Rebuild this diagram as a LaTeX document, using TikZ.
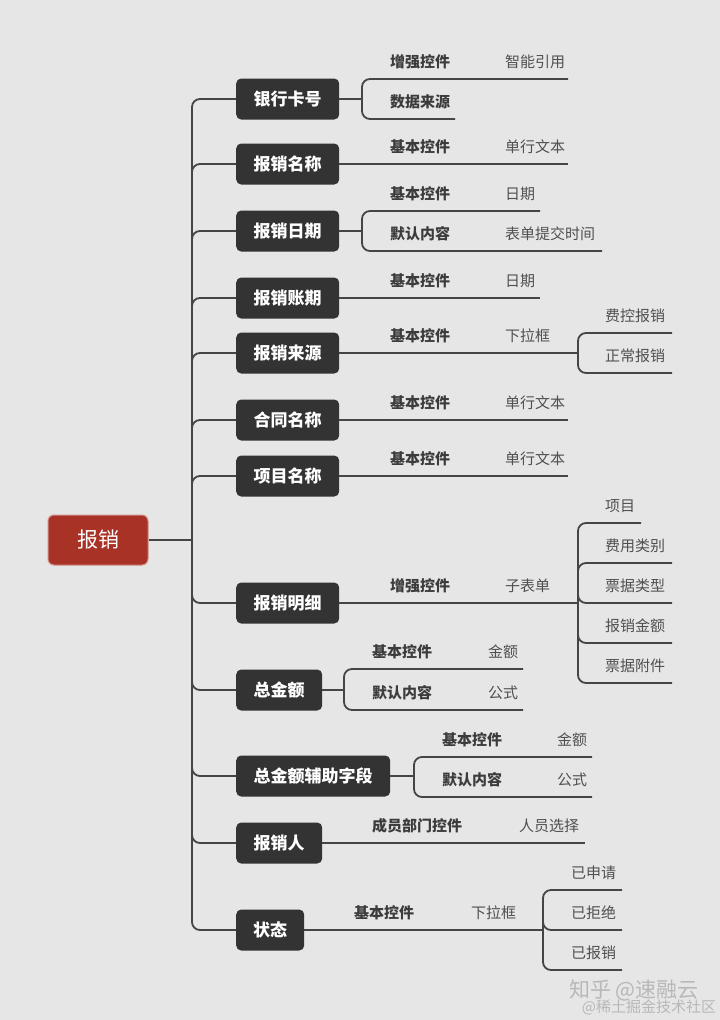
\documentclass[tikz,border=0pt]{standalone}
\usepackage{fontspec}
\setmainfont{Noto Sans CJK SC}
\definecolor{bg}{HTML}{E6E6E6}
\definecolor{ln}{HTML}{454545}
\definecolor{boxc}{HTML}{333333}
\definecolor{rootc}{HTML}{A93226}
\definecolor{ttwo}{HTML}{3C3C3C}
\definecolor{tthree}{HTML}{505050}
\definecolor{wm}{HTML}{B8B8B8}
\tikzset{
 conn/.style={draw=ln, line width=1.8pt, rounded corners=8pt},
 lone/.style={fill=boxc, rounded corners=5pt, text=white, font=\fontsize{17}{17}\selectfont\bfseries, minimum height=41pt, anchor=west, inner sep=0pt},
 rootbox/.style={fill=rootc, draw=rootc!55!white, line width=1pt, rounded corners=6pt, text=white, font=\fontsize{21}{21}\selectfont, minimum width=100pt, minimum height=50pt},
 ltwo/.style={text=ttwo, font=\fontsize{15}{15}\selectfont\bfseries, anchor=west, inner sep=0pt},
 lthree/.style={text=tthree, font=\fontsize{15}{15}\selectfont, anchor=west, inner sep=0pt},
 wmark/.style={text=wm, inner sep=0pt},
}
\begin{document}
\begin{tikzpicture}[x=1pt,y=-1pt]
\fill[bg] (0,0) rectangle (720,1020);
\useasboundingbox (0,0) rectangle (720,1020);

% root
\node[rootbox] (root) at (98,540) {报销};
\coordinate (sj) at (192,540);
\draw[conn] (root.east) -- (sj);

% level-1 boxes
\node[lone, minimum width=103pt] (b1) at (236,99) {银行卡号};
\node[lone, minimum width=103pt] (b2) at (236,164) {报销名称};
\node[lone, minimum width=103pt] (b3) at (236,231) {报销日期};
\node[lone, minimum width=103pt] (b4) at (236,298) {报销账期};
\node[lone, minimum width=103pt] (b5) at (236,353) {报销来源};
\node[lone, minimum width=103pt] (b6) at (236,420) {合同名称};
\node[lone, minimum width=103pt] (b7) at (236,476) {项目名称};
\node[lone, minimum width=103pt] (b8) at (236,603) {报销明细};
\node[lone, minimum width=86pt] (b9) at (236,690) {总金额};
\node[lone, minimum width=154pt] (b10) at (236,776) {总金额辅助字段};
\node[lone, minimum width=86pt] (b11) at (236,843) {报销人};
\node[lone, minimum width=68pt] (b12) at (236,930) {状态};
\foreach \b in {b1,b2,b3,b4,b5,b6,b7,b8,b9,b10,b11,b12}
  \draw[conn] (sj) |- (\b.west);

% row 1
\coordinate (j1) at (362,99);
\coordinate (e1a) at (568,79);
\coordinate (e1b) at (455,119);
\draw[conn] (b1.east) -- (j1);
\draw[conn] (j1) |- (e1a);
\draw[conn] (j1) |- (e1b);
\node[ltwo] (n1a) at (390,62) {增强控件};
\node[lthree] (m1a) at (505,62) {智能引用};
\node[ltwo] (n1b) at (390,102) {数据来源};

% row 2
\coordinate (e2) at (568,164);
\draw[conn] (b2.east) -- (e2);
\node[ltwo] (n2) at (390,147) {基本控件};
\node[lthree] (m2) at (505,147) {单行文本};

% row 3
\coordinate (j3) at (362,231);
\coordinate (e3a) at (540,211);
\coordinate (e3b) at (602,251);
\draw[conn] (b3.east) -- (j3);
\draw[conn] (j3) |- (e3a);
\draw[conn] (j3) |- (e3b);
\node[ltwo] (n3a) at (390,194) {基本控件};
\node[lthree] (m3a) at (505,194) {日期};
\node[ltwo] (n3b) at (390,234) {默认内容};
\node[lthree] (m3b) at (505,234) {表单提交时间};

% row 4
\coordinate (e4) at (540,298);
\draw[conn] (b4.east) -- (e4);
\node[ltwo] (n4) at (390,281) {基本控件};
\node[lthree] (m4) at (505,281) {日期};

% row 5
\coordinate (j5) at (578,353);
\coordinate (e5a) at (672,333);
\coordinate (e5b) at (672,373);
\draw[conn] (b5.east) -- (j5);
\draw[conn] (j5) |- (e5a);
\draw[conn] (j5) |- (e5b);
\node[ltwo] (n5) at (390,336) {基本控件};
\node[lthree] (m5) at (505,336) {下拉框};
\node[lthree] (k5a) at (605,316) {费控报销};
\node[lthree] (k5b) at (605,356) {正常报销};

% row 6
\coordinate (e6) at (568,420);
\draw[conn] (b6.east) -- (e6);
\node[ltwo] (n6) at (390,403) {基本控件};
\node[lthree] (m6) at (505,403) {单行文本};

% row 7
\coordinate (e7) at (568,476);
\draw[conn] (b7.east) -- (e7);
\node[ltwo] (n7) at (390,459) {基本控件};
\node[lthree] (m7) at (505,459) {单行文本};

% row 8
\coordinate (j8) at (578,603);
\coordinate (e8a) at (641,523);
\coordinate (e8b) at (672,563);
\coordinate (e8c) at (672,603);
\coordinate (e8d) at (672,643);
\coordinate (e8e) at (672,683);
\draw[conn] (b8.east) -- (j8);
\foreach \e in {e8a,e8b,e8c,e8d,e8e}
  \draw[conn] (j8) |- (\e);
\node[ltwo] (n8) at (390,586) {增强控件};
\node[lthree] (m8) at (505,586) {子表单};
\node[lthree] (k8a) at (605,506) {项目};
\node[lthree] (k8b) at (605,546) {费用类别};
\node[lthree] (k8c) at (605,586) {票据类型};
\node[lthree] (k8d) at (605,626) {报销金额};
\node[lthree] (k8e) at (605,666) {票据附件};

% row 9
\coordinate (j9) at (344,690);
\coordinate (e9a) at (523,669);
\coordinate (e9b) at (523,710);
\draw[conn] (b9.east) -- (j9);
\draw[conn] (j9) |- (e9a);
\draw[conn] (j9) |- (e9b);
\node[ltwo] (n9a) at (372,652) {基本控件};
\node[lthree] (m9a) at (488,652) {金额};
\node[ltwo] (n9b) at (372,693) {默认内容};
\node[lthree] (m9b) at (488,693) {公式};

% row 10
\coordinate (j10) at (414,776);
\coordinate (e10a) at (592,757);
\coordinate (e10b) at (592,797);
\draw[conn] (b10.east) -- (j10);
\draw[conn] (j10) |- (e10a);
\draw[conn] (j10) |- (e10b);
\node[ltwo] (n10a) at (442,740) {基本控件};
\node[lthree] (m10a) at (557,740) {金额};
\node[ltwo] (n10b) at (442,780) {默认内容};
\node[lthree] (m10b) at (557,780) {公式};

% row 11
\coordinate (e11) at (585,843);
\draw[conn] (b11.east) -- (e11);
\node[ltwo] (n11) at (372,826) {成员部门控件};
\node[lthree] (m11) at (519,826) {人员选择};

% row 12
\coordinate (j12) at (543,930);
\coordinate (e12a) at (622,890);
\coordinate (e12b) at (622,930);
\coordinate (e12c) at (622,970);
\draw[conn] (b12.east) -- (j12);
\foreach \e in {e12a,e12b,e12c}
  \draw[conn] (j12) |- (\e);
\node[ltwo] (n12) at (354,913) {基本控件};
\node[lthree] (m12) at (471,913) {下拉框};
\node[lthree] (k12a) at (571,873) {已申请};
\node[lthree] (k12b) at (571,913) {已拒绝};
\node[lthree] (k12c) at (571,953) {已报销};

% watermark
\node[wmark, font=\fontsize{21}{21}\selectfont] (wm1) at (634,990) {知乎 @速融云};
\node[wmark, font=\fontsize{15}{15}\selectfont] (wm2) at (649,1007) {@稀土掘金技术社区};
\end{tikzpicture}
\end{document}
